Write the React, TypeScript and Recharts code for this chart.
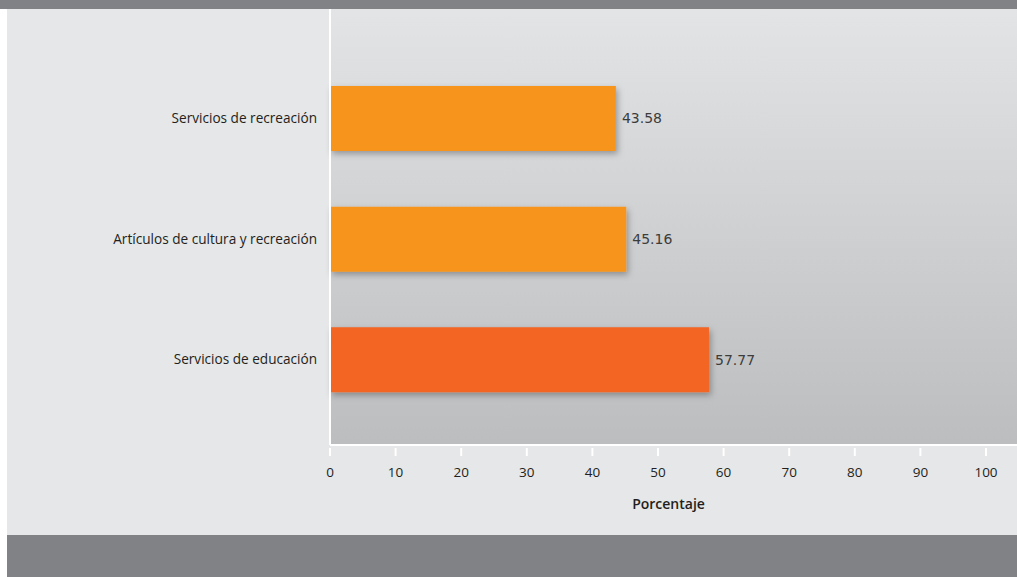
import React from "react";
import {
  BarChart,
  Bar,
  XAxis,
  YAxis,
  CartesianGrid,
  Cell,
  LabelList,
} from "recharts";

const categories = [
  "Servicios de recreación",
  "Artículos de cultura y recreación",
  "Servicios de educación",
];
const values = [43.58, 45.16, 57.77];
const barColors = ["#f7941d", "#f7941d", "#f26522"];
const xTicks = [0, 10, 20, 30, 40, 50, 60, 70, 80, 90, 100];

const data = categories.map((name, i) => ({ name, value: values[i] }));

const labelFont = "'Open Sans', 'Noto Sans', sans-serif";

const XTick = (props: any) => {
  const { x, y, payload } = props;
  return (
    <g>
      <line x1={x} x2={x} y1={y + 3} y2={y + 11} stroke="#ffffff" strokeWidth={2} />
      <text
        x={x}
        y={y + 32}
        textAnchor="middle"
        fontSize={13.5}
        fontFamily={labelFont}
        fill="#231f20"
      >
        {payload.value}
      </text>
    </g>
  );
};

const App = () => {
  return (
    <div
      style={{
        position: "absolute",
        left: 0,
        top: 0,
        width: 1017,
        height: 577,
        background: "#ffffff",
        overflow: "hidden",
      }}
    >
      <div
        style={{
          position: "absolute",
          left: 0,
          top: 0,
          width: 1017,
          height: 9,
          background: "#808285",
        }}
      />
      <div
        style={{
          position: "absolute",
          left: 7,
          top: 9,
          width: 1010,
          height: 526,
          background: "#e6e7e8",
        }}
      >
        <BarChart
          width={1010}
          height={526}
          data={data}
          layout="vertical"
          margin={{ top: 0, right: 0, bottom: 0, left: 0 }}
          barSize={65}
        >
          <defs>
            <linearGradient id="plotBg" x1="0" y1="0" x2="0" y2="1">
              <stop offset="0%" stopColor="#e3e4e5" />
              <stop offset="100%" stopColor="#bcbdbf" />
            </linearGradient>
            <filter id="barShadow" x="-10%" y="-20%" width="130%" height="160%">
              <feDropShadow dx="2" dy="3" stdDeviation="3" floodColor="#000000" floodOpacity="0.3" />
            </filter>
          </defs>
          <CartesianGrid
            fill="url(#plotBg)"
            fillOpacity={1}
            horizontal={false}
            vertical={false}
          />
          <XAxis
            type="number"
            domain={[0, 100]}
            ticks={xTicks}
            height={90}
            padding={{ left: 0, right: 31 }}
            axisLine={{ stroke: "#ffffff", strokeWidth: 2 }}
            tickLine={false}
            tickSize={0}
            tickMargin={0}
            tick={<XTick />}
            interval={0}
            label={{
              value: "Porcentaje",
              position: "insideBottom",
              offset: 26,
              dx: -5,
              fontSize: 14,
              fontWeight: 600,
              fontFamily: labelFont,
              fill: "#231f20",
            }}
          />
          <YAxis
            type="category"
            dataKey="name"
            width={323}
            padding={{ top: 49, bottom: 25 }}
            axisLine={{ stroke: "#ffffff", strokeWidth: 2 }}
            tickLine={false}
            tickMargin={7}
            tick={{ fontSize: 13.6, fontFamily: labelFont, fill: "#231f20" }}
          />
          <Bar
            dataKey="value"
            isAnimationActive={false}
            filter="url(#barShadow)"
          >
            {data.map((d, i) => (
              <Cell key={d.name} fill={barColors[i]} />
            ))}
            <LabelList
              dataKey="value"
              position="right"
              offset={6}
              formatter={(v: any) => Number(v).toFixed(2)}
              style={{
                fontSize: 14,
                fontFamily: "'DejaVu Sans', sans-serif",
                fill: "#3c3c3c",
              }}
            />
          </Bar>
        </BarChart>
      </div>
      <div
        style={{
          position: "absolute",
          left: 7,
          top: 535,
          width: 1010,
          height: 42,
          background: "#808285",
        }}
      />
    </div>
  );
};

export default App;
